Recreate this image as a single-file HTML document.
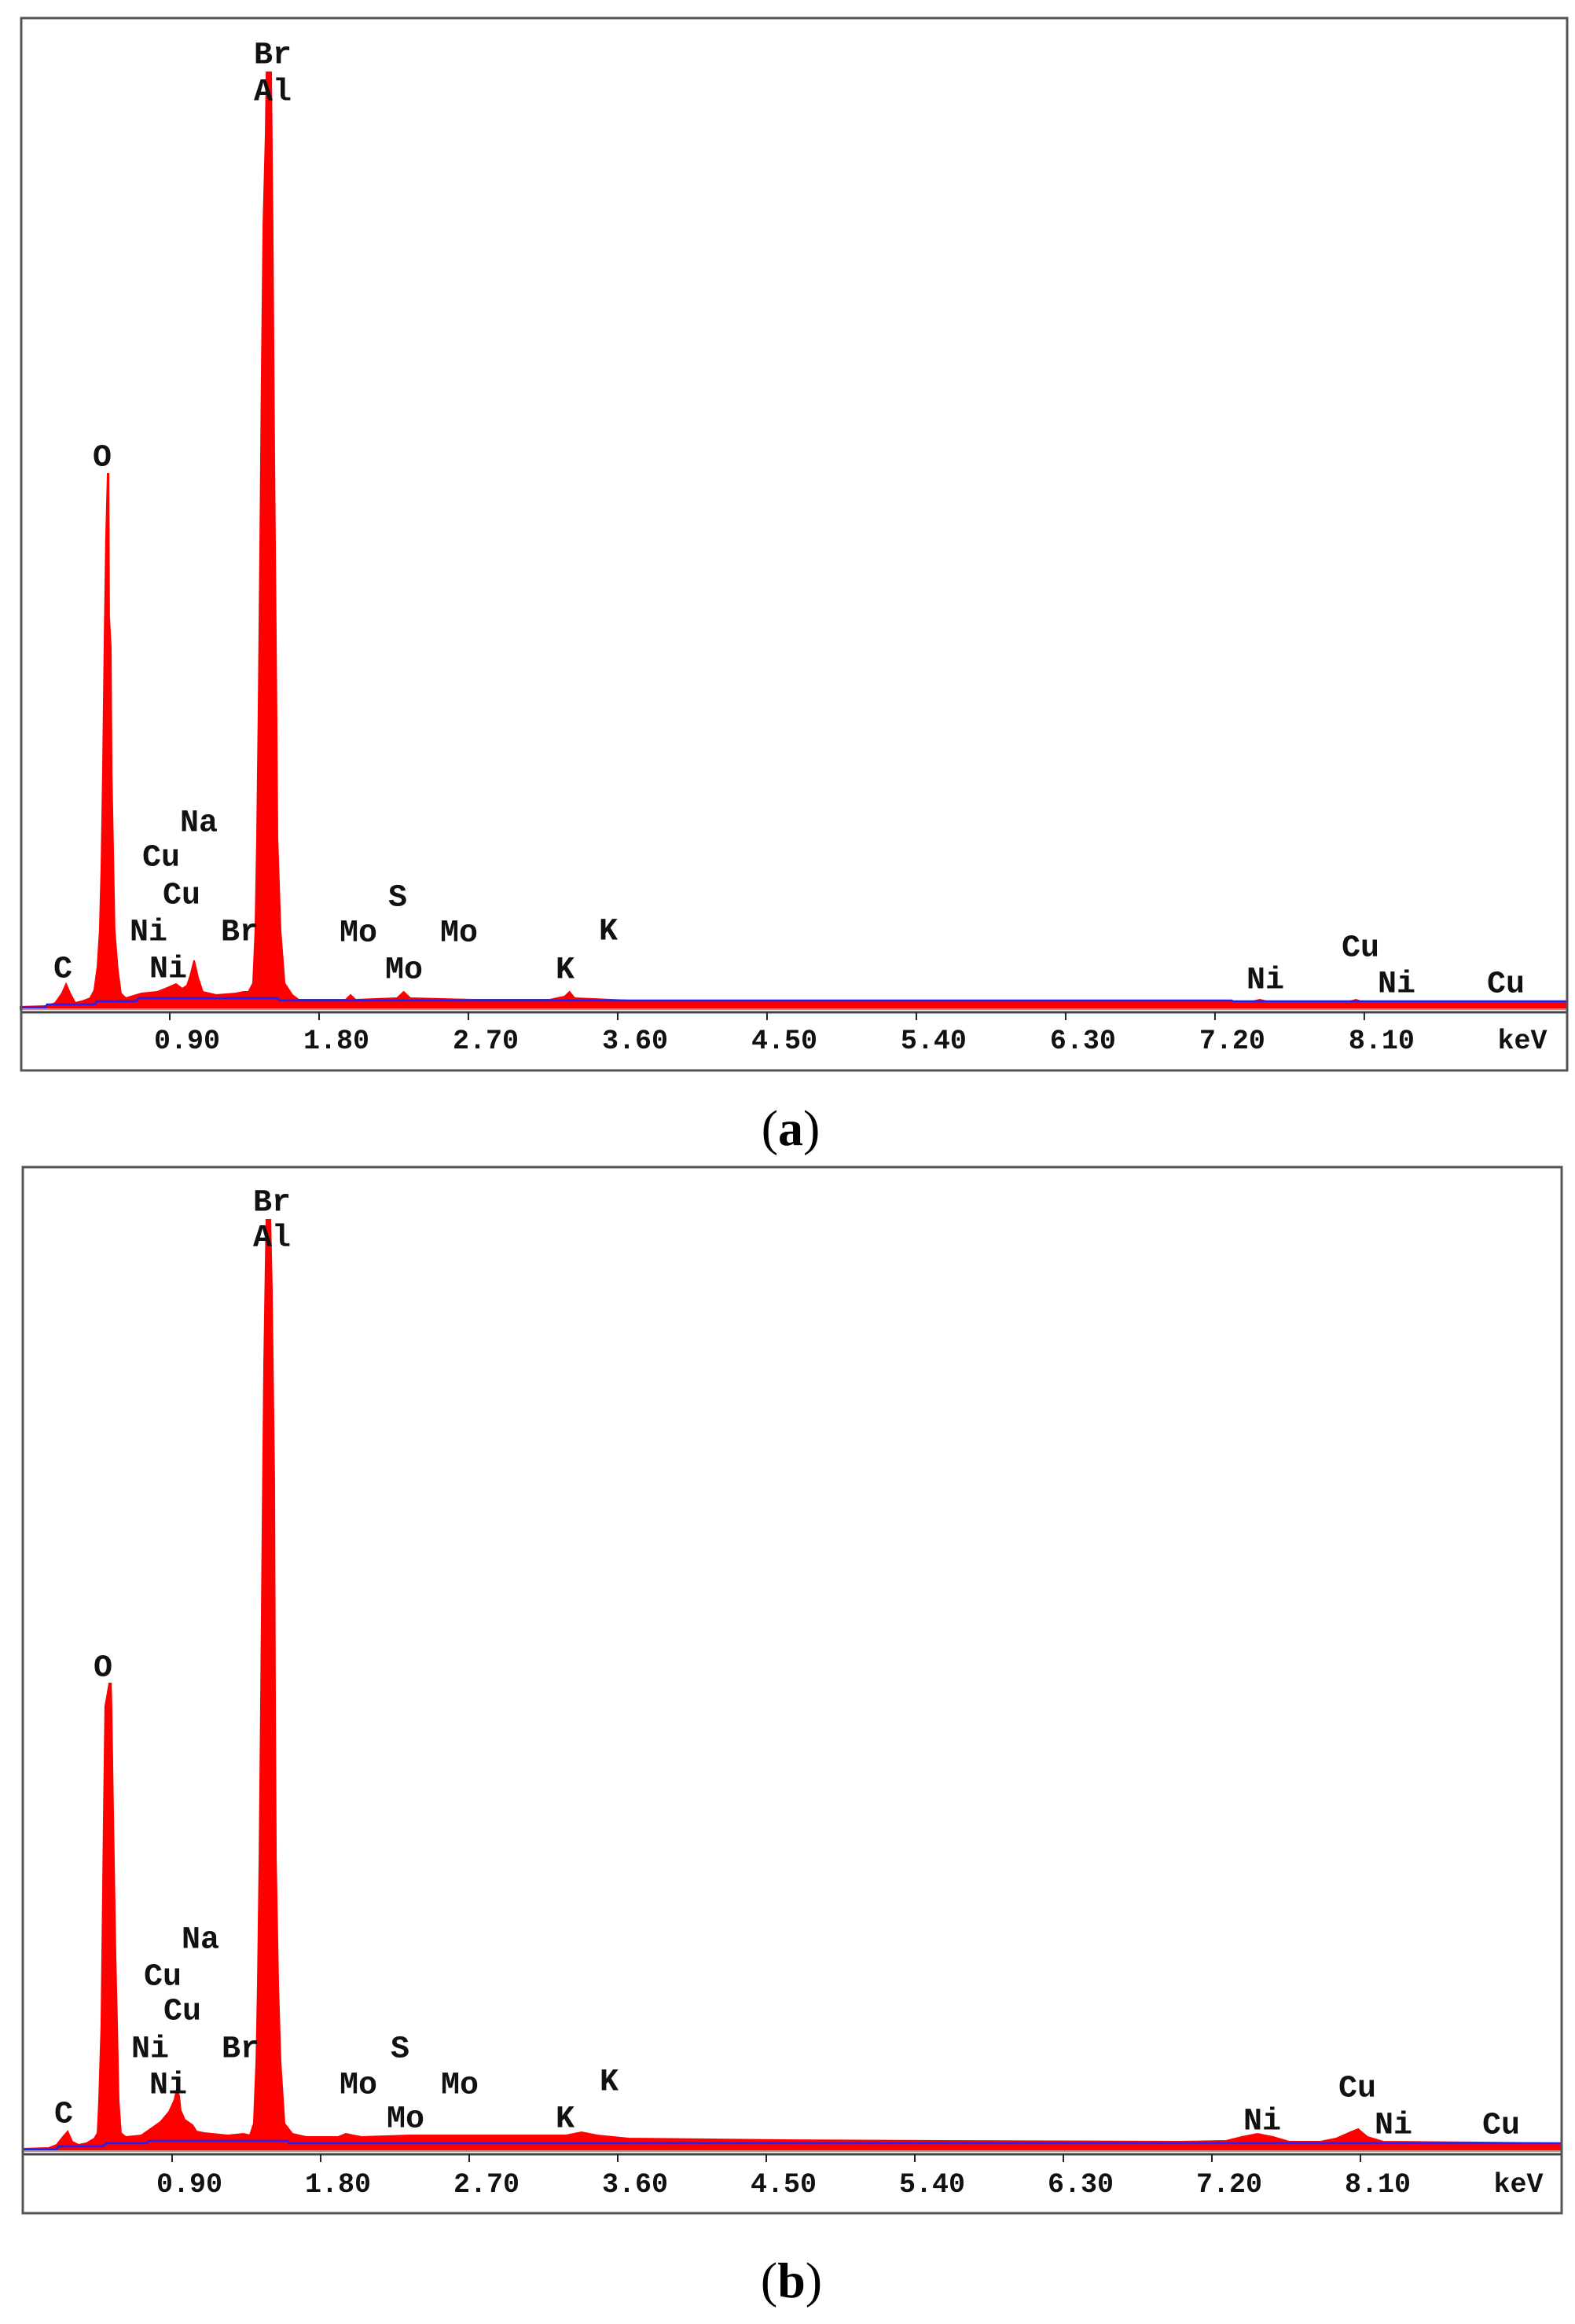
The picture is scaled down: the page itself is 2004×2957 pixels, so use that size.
<!DOCTYPE html>
<html>
<head>
<meta charset="utf-8">
<style>
html,body{margin:0;padding:0;background:#fff;}
svg{display:block;}
.lbl{font-family:"Liberation Mono",monospace;font-weight:bold;font-size:40px;fill:#111;}
.tick{font-family:"Liberation Mono",monospace;font-weight:bold;font-size:35px;fill:#111;}
.cap{font-family:"Liberation Serif",serif;font-size:64px;fill:#000;}
</style>
</head>
<body>
<svg id="fig" width="2004" height="2957" viewBox="0 0 2004 2957" xmlns="http://www.w3.org/2000/svg">
</svg>
<script>
// ---- Data (keV / counts) ----
const tickValues = [0.90, 1.80, 2.70, 3.60, 4.50, 5.40, 6.30, 7.20, 8.10];
const tickLabels = ["0.90","1.80","2.70","3.60","4.50","5.40","6.30","7.20","8.10"];

const aEnergy = [0,0.16,0.21,0.25,0.275,0.30,0.33,0.37,0.42,0.445,0.464,0.478,0.488,0.497,0.507,0.516,0.526,0.531,0.535,0.545,0.55,0.559,0.568,0.587,0.606,0.635,0.73,0.824,0.895,0.938,0.976,1.004,1.023,1.047,1.071,1.099,1.18,1.298,1.345,1.374,1.402,1.416,1.426,1.435,1.445,1.454,1.464,1.478,1.483,1.511,1.52,1.53,1.544,1.549,1.568,1.592,1.639,1.677,1.96,1.99,2.02,2.27,2.31,2.35,2.72,3.19,3.28,3.31,3.34,3.67,4.61,5.56,6.51,7.41,7.47,7.53,8.00,8.05,8.09,9.32];
const aCounts = [3,4,8,20,32,20,8,10,14,24,54,100,180,300,470,600,681,681,500,460,300,200,100,50,20,14,20,22,28,32,26,30,42,62,40,22,18,20,22,22,33,100,219,375,585,800,1000,1112,1192,1192,1000,700,375,219,100,33,18,12,12,18,12,14,22,14,12,12,16,22,14,11,10,10,9,9,12,9,9,12,9,9];
const aBgEnergy = [0,0.15,0.16,0.45,0.46,0.70,0.71,1.55,1.56,7.30,7.31,9.32];
const aBgCounts = [2,2,6,6,10,10,14,14,11,11,10,10];

const bEnergy = [0,0.152,0.2,0.238,0.267,0.295,0.333,0.381,0.429,0.448,0.457,0.471,0.476,0.486,0.495,0.519,0.529,0.533,0.543,0.557,0.567,0.576,0.59,0.619,0.714,0.829,0.881,0.914,0.929,0.943,0.952,0.976,1.024,1.048,1.095,1.238,1.333,1.371,1.395,1.41,1.419,1.429,1.438,1.448,1.457,1.471,1.495,1.505,1.519,1.524,1.529,1.543,1.557,1.581,1.629,1.714,1.905,1.952,2.048,2.333,2.714,3.286,3.381,3.476,3.667,4.619,5.571,7.0,7.286,7.381,7.476,7.571,7.667,7.857,7.952,8.038,8.086,8.143,8.238,9.319];
const bCounts = [3,4,8,18,25,12,8,10,16,23,64,158,249,429,566,595,595,566,429,249,158,64,23,18,20,37,50,65,79,70,52,40,33,25,23,20,22,20,35,114,212,373,568,805,1000,1185,1185,1096,850,570,373,212,114,35,22,18,18,22,18,20,20,20,24,20,16,14,13,12,13,18,22,18,12,12,16,24,28,18,12,10];
const bBgEnergy = [0,0.2,0.21,0.48,0.5,0.75,0.76,1.6,1.61,9.32];
const bBgCounts = [2,2,6,6,10,10,13,13,10,10];

const aLabels = [["Br",347,71],["Al",347,118],["O",130,583],["Na",253,1048],["Cu",205,1092],["Cu",231,1140],["Ni",189,1187],["Br",305,1187],["Ni",214,1234],["C",80,1234],["Mo",456,1188],["S",506,1143],["Mo",584,1188],["Mo",514,1235],["K",774,1186],["K",719,1235],["Cu",1731,1207],["Ni",1610,1248],["Ni",1777,1253],["Cu",1916,1253]];
const bLabels = [["Br",346,1531],["Al",346,1576],["O",131,2123],["Na",255,2469],["Cu",207,2516],["Cu",232,2560],["Ni",191,2608],["Br",306,2608],["Ni",214,2654],["C",81,2691],["Mo",456,2654],["S",509,2608],["Mo",585,2654],["Mo",516,2697],["K",775,2650],["K",719,2697],["Cu",1727,2658],["Ni",1606,2700],["Ni",1773,2705],["Cu",1910,2705]];

// ---- Layout ----
const NS = "http://www.w3.org/2000/svg";
const svg = document.getElementById("fig");
function mk(tag, attrs, parent){
  const e = document.createElementNS(NS, tag);
  for (const k in attrs) e.setAttribute(k, attrs[k]);
  (parent||svg).appendChild(e);
  return e;
}

function drawPanel(id, P, energy, counts, bgE, bgC, labels, caption){
  const g = mk("g", {});
  
  
  const x = e => P.x0 + e * P.kx;
  const y = c => P.axisY - 4 - c;

  let d = "M" + x(energy[0]) + "," + y(0);
  for (let i = 0; i < energy.length; i++) d += " L" + x(energy[i]).toFixed(1) + "," + y(counts[i]).toFixed(1);
  d += " L" + Math.min(x(energy[energy.length-1]), P.right) + "," + y(0) + " Z";
  const sp = mk("path", {d: d, fill: "#ff0000", stroke: "#ff0000", "stroke-width": 2}, g);
  
  

  let bd = "";
  for (let i = 0; i < bgE.length; i++) bd += (i ? " L" : "M") + Math.min(x(bgE[i]), P.right).toFixed(1) + "," + y(bgC[i]).toFixed(1);
  const bl = mk("path", {d: bd, fill: "none", stroke: "#2020ff", "stroke-width": 2.5}, g);
  
  

  const al = mk("line", {x1: P.left, x2: P.right, y1: P.axisY, y2: P.axisY, stroke: "#444", "stroke-width": 3}, g);
  
  
  mk("line", {x1: P.left, x2: P.right, y1: P.axisY - 4, y2: P.axisY - 4, stroke: "#bbb", "stroke-width": 1.5}, g);

  for (let i = 0; i < tickValues.length; i++){
    const tx = x(tickValues[i]);
    const t = mk("line", {x1: tx, x2: tx, y1: P.axisY, y2: P.axisY + 10, stroke: "#222", "stroke-width": 2}, g);
    
    
    const tl = mk("text", {x: tx + 22, y: P.tickLabelY, "text-anchor": "middle", "dominant-baseline": "central", class: "tick"}, g);
    tl.textContent = tickLabels[i];
    
    
  }
  const kv = mk("text", {x: P.kevX, y: P.tickLabelY, "text-anchor": "middle", "dominant-baseline": "central", class: "tick"}, g);
  kv.textContent = "keV";
  
  

  for (const L of labels){
    const t = mk("text", {x: L[1], y: L[2], "text-anchor": "middle", "dominant-baseline": "central", class: "lbl"}, g);
    t.textContent = L[0];
    
    
  }

  const fr = mk("rect", {x: P.left, y: P.top, width: P.right - P.left, height: P.bottom - P.top, fill: "none", stroke: "#555", "stroke-width": 3}, g);
  
  

  const c = mk("text", {x: P.capX, y: P.capY, "text-anchor": "middle", "dominant-baseline": "central", class: "cap"}, g);
  c.innerHTML = '(<tspan font-weight="bold">' + caption + '</tspan>)';
  
  
}

drawPanel("a", {x0: 26, kx: 211.1, left: 27, right: 1994, top: 23, bottom: 1362, axisY: 1288, tickLabelY: 1325, kevX: 1937, capX: 1006, capY: 1435},
  aEnergy, aCounts, aBgEnergy, aBgCounts, aLabels, "a");
drawPanel("b", {x0: 30, kx: 210, left: 29, right: 1987, top: 1485, bottom: 2816, axisY: 2741, tickLabelY: 2780, kevX: 1932, capX: 1007, capY: 2901},
  bEnergy, bCounts, bBgEnergy, bBgCounts, bLabels, "b");
</script>
</body>
</html>
